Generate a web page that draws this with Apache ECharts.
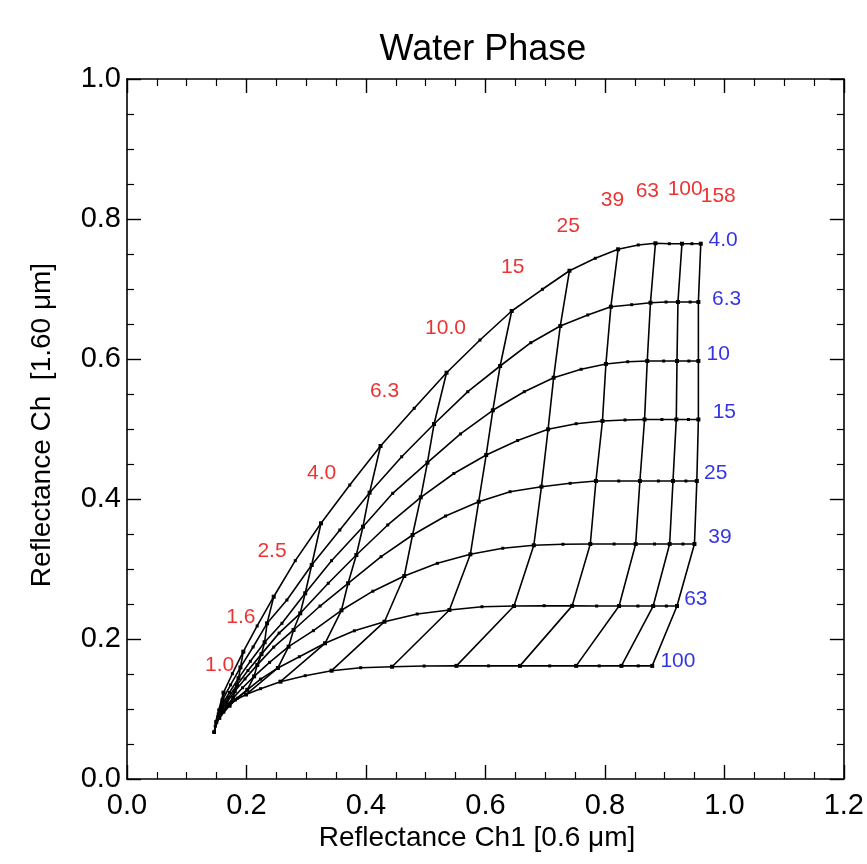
<!DOCTYPE html>
<html><head><meta charset="utf-8">
<script src="https://cdn.jsdelivr.net/npm/echarts/dist/echarts.min.js"></script>
<style>html,body{margin:0;padding:0;background:#fff}#c{width:867px;height:864px}</style>
</head><body><div id="c"></div>
<script>
// Optical thickness at each point along a constant-radius curve (first point = convergence point)
const tauValues = [0, 0.79, 1.0, 1.26, 1.6, 2.0, 2.5, 3.2, 4.0, 5.0, 6.3, 7.9, 10, 12.6, 15.8, 20, 25, 31.6, 39.8, 50, 63, 79, 100, 126, 158];
const reLabels = ['4.0', '6.3', '10', '15', '25', '39', '63', '100'];
const tauLabels = ['1.0', '1.6', '2.5', '4.0', '6.3', '10.0', '15', '25', '39', '63', '100', '158'];
const tauLabelIndex = [2, 4, 6, 8, 10, 12, 14, 16, 18, 20, 22, 24];

// Reflectance Ch1 (0.6 um) and Ch (1.60 um) for each effective radius
const ch1Re4 = [0.146, 0.1535, 0.1615, 0.1764, 0.1947, 0.2179, 0.2456, 0.2817, 0.3248, 0.3729, 0.4244, 0.4808, 0.5349, 0.5909, 0.644, 0.6954, 0.7407, 0.7839, 0.8221, 0.8559, 0.8846, 0.9079, 0.929, 0.9456, 0.9605];
const ch2Re4 = [0.067, 0.0986, 0.1233, 0.1504, 0.1819, 0.2186, 0.2604, 0.3119, 0.3653, 0.42, 0.4757, 0.5296, 0.5804, 0.6271, 0.6686, 0.6996, 0.7261, 0.7439, 0.7567, 0.7629, 0.7653, 0.7647, 0.7647, 0.7647, 0.7647];
const ch1Re6 = [0.146, 0.1527, 0.16, 0.1734, 0.1899, 0.2111, 0.2345, 0.2677, 0.3092, 0.3563, 0.4061, 0.4598, 0.514, 0.5705, 0.6246, 0.676, 0.7253, 0.7713, 0.81, 0.8448, 0.8763, 0.9024, 0.9223, 0.9427, 0.9565];
const ch2Re6 = [0.067, 0.0929, 0.1129, 0.1344, 0.1594, 0.1886, 0.2224, 0.2557, 0.3057, 0.3557, 0.409, 0.4604, 0.5071, 0.5533, 0.59, 0.6233, 0.6471, 0.6629, 0.6747, 0.6776, 0.6804, 0.6814, 0.6814, 0.6814, 0.6814];
const ch1Re10 = [0.146, 0.1522, 0.159, 0.1715, 0.1867, 0.2065, 0.2304, 0.2594, 0.2983, 0.3424, 0.395, 0.4448, 0.5029, 0.5582, 0.6124, 0.665, 0.7142, 0.7602, 0.8017, 0.8382, 0.8709, 0.8984, 0.9207, 0.9406, 0.9565];
const ch2Re10 = [0.067, 0.0893, 0.1057, 0.1236, 0.1441, 0.1681, 0.1954, 0.2224, 0.2653, 0.3119, 0.3604, 0.4081, 0.4519, 0.4929, 0.5267, 0.5533, 0.5733, 0.5853, 0.5929, 0.5961, 0.5971, 0.5971, 0.5971, 0.5971, 0.5971];
const ch1Re15 = [0.146, 0.1517, 0.1582, 0.1698, 0.1841, 0.2025, 0.2251, 0.2546, 0.29, 0.3369, 0.3839, 0.4365, 0.4918, 0.5472, 0.6013, 0.6539, 0.7049, 0.7519, 0.7959, 0.8337, 0.8664, 0.8954, 0.9195, 0.9399, 0.9565];
const ch2Re15 = [0.067, 0.0871, 0.1011, 0.1166, 0.1343, 0.155, 0.1784, 0.2084, 0.2367, 0.2796, 0.32, 0.3629, 0.4024, 0.4364, 0.4629, 0.4836, 0.4996, 0.5076, 0.5114, 0.5129, 0.5136, 0.5136, 0.5136, 0.5136, 0.5136];
const ch1Re25 = [0.146, 0.151, 0.1572, 0.1676, 0.1804, 0.1975, 0.2181, 0.2456, 0.2788, 0.3232, 0.3701, 0.4254, 0.478, 0.5333, 0.5887, 0.6412, 0.6938, 0.7419, 0.785, 0.8232, 0.8586, 0.8896, 0.914, 0.9356, 0.9539];
const ch2Re25 = [0.067, 0.085, 0.0969, 0.1101, 0.1253, 0.143, 0.163, 0.1884, 0.2129, 0.2471, 0.2796, 0.3176, 0.3486, 0.3757, 0.3961, 0.4104, 0.4176, 0.4224, 0.4257, 0.4257, 0.4257, 0.4257, 0.4257, 0.4257, 0.4257];
const ch1Re39 = [0.146, 0.1504, 0.1563, 0.166, 0.1778, 0.1935, 0.2128, 0.2387, 0.2705, 0.312, 0.359, 0.4116, 0.4642, 0.5195, 0.5748, 0.629, 0.681, 0.7298, 0.7756, 0.8154, 0.8515, 0.883, 0.9084, 0.9306, 0.9499];
const ch2Re39 = [0.067, 0.0829, 0.0926, 0.1034, 0.1159, 0.1304, 0.1467, 0.1666, 0.189, 0.2119, 0.241, 0.2683, 0.29, 0.3081, 0.321, 0.3296, 0.3339, 0.3353, 0.3357, 0.3357, 0.3357, 0.3357, 0.3357, 0.3357, 0.3357];
const ch1Re63 = [0.146, 0.1494, 0.1545, 0.1622, 0.1718, 0.1849, 0.2013, 0.2237, 0.2526, 0.2885, 0.3315, 0.3806, 0.431, 0.4858, 0.5397, 0.5942, 0.6478, 0.6983, 0.7452, 0.7862, 0.8237, 0.8553, 0.8808, 0.9029, 0.9207];
const ch2Re63 = [0.067, 0.08, 0.0873, 0.0954, 0.1047, 0.1154, 0.1274, 0.1427, 0.1586, 0.1747, 0.1939, 0.2117, 0.2247, 0.2357, 0.2414, 0.2461, 0.2471, 0.2476, 0.2473, 0.2471, 0.2471, 0.2471, 0.2471, 0.2471, 0.2471];
const ch1Re100 = [0.146, 0.1477, 0.1494, 0.1519, 0.1552, 0.161, 0.1693, 0.1817, 0.1992, 0.2236, 0.2568, 0.2983, 0.3424, 0.3912, 0.4437, 0.4974, 0.5515, 0.6053, 0.6578, 0.7076, 0.7519, 0.7905, 0.8277, 0.8559, 0.8792];
const ch2Re100 = [0.067, 0.0757, 0.0814, 0.0864, 0.0921, 0.0986, 0.1057, 0.1129, 0.1207, 0.129, 0.139, 0.1476, 0.1547, 0.159, 0.1604, 0.1614, 0.1616, 0.1616, 0.1616, 0.1616, 0.1616, 0.1616, 0.1616, 0.1616, 0.1616];

// Annotation anchors (data coordinates)
const tauLabelX = [0.155, 0.1905, 0.2428, 0.3259, 0.4311, 0.5332, 0.6456, 0.7386, 0.8127, 0.8711, 0.9344, 0.9897];
const tauLabelY = [0.1629, 0.2310, 0.3257, 0.4367, 0.5533, 0.6438, 0.7310, 0.7900, 0.8271, 0.8404, 0.8429, 0.8319];
const reLabelX = [0.998, 1.0037, 0.9897, 1.0, 0.9854, 0.9925, 0.9522, 0.9223];
const reLabelY = [0.770, 0.6853, 0.6071, 0.5236, 0.4367, 0.3461, 0.2567, 0.1676];

const xTicks = [0, 0.2, 0.4, 0.6, 0.8, 1.0, 1.2];
const yTicks = [0, 0.2, 0.4, 0.6, 0.8, 1.0];

const ch1 = [ch1Re4, ch1Re6, ch1Re10, ch1Re15, ch1Re25, ch1Re39, ch1Re63, ch1Re100];
const ch2 = [ch2Re4, ch2Re6, ch2Re10, ch2Re15, ch2Re25, ch2Re39, ch2Re63, ch2Re100];

const FONT = '"Liberation Sans", Arial, Helvetica, sans-serif';
const series = [];
ch1.forEach((xs, r) => {
  series.push({
    type: 'line', name: 're ' + reLabels[r], xAxisIndex: 0, yAxisIndex: 0,
    data: xs.map((x, i) => [x, ch2[r][i]]),
    smooth: false, showSymbol: true, symbol: 'rect',
    symbolSize: (v, p) => (p.dataIndex % 2 === 0 && p.dataIndex > 0 ? 4 : 3),
    lineStyle: { color: '#000', width: 1.6 }, itemStyle: { color: '#000' },
    silent: true, z: 3
  });
});
tauLabelIndex.forEach((j, t) => {
  series.push({
    type: 'line', name: 'tau ' + tauLabels[t], xAxisIndex: 0, yAxisIndex: 0,
    data: ch1.map((xs, r) => [xs[j], ch2[r][j]]),
    showSymbol: false, symbol: 'none',
    lineStyle: { color: '#000', width: 1.6 }, silent: true, z: 3
  });
});
series.push({
  type: 'scatter', xAxisIndex: 0, yAxisIndex: 0, symbolSize: 1,
  itemStyle: { color: 'rgba(0,0,0,0)' }, silent: true, z: 5,
  data: tauLabelX.map((x, i) => [x, tauLabelY[i]]),
  label: { show: true, position: 'inside', color: '#e60000', fontSize: 21, fontFamily: FONT,
    formatter: p => tauLabels[p.dataIndex] }
});
series.push({
  type: 'scatter', xAxisIndex: 0, yAxisIndex: 0, symbolSize: 1,
  itemStyle: { color: 'rgba(0,0,0,0)' }, silent: true, z: 5,
  data: reLabelX.map((x, i) => [x, reLabelY[i]]),
  label: { show: true, position: 'inside', color: '#0000dc', fontSize: 21, fontFamily: FONT,
    formatter: p => reLabels[p.dataIndex] }
});

function axisCommon() {
  return {
    type: 'value', splitLine: { show: false },
    axisLine: { show: true, onZero: false, lineStyle: { color: '#000', width: 1.6 } },
    axisTick: { show: true, inside: true, length: 14, lineStyle: { color: '#000', width: 1.4 } },
    minorTick: { show: true, splitNumber: 4, length: 7, lineStyle: { color: '#000', width: 1.2 } }
  };
}

const chart = echarts.init(document.getElementById('c'), null, { renderer: 'canvas' });
chart.setOption({
  animation: false,
  backgroundColor: '#fff',
  grid: { left: 127, top: 79, width: 723, height: 700, containLabel: false },
  xAxis: [
    Object.assign(axisCommon(), { position: 'bottom', min: xTicks[0], max: xTicks[xTicks.length - 1], interval: 0.2,
      axisLabel: { show: true, margin: 12, fontSize: 29, color: '#000', fontFamily: FONT, formatter: v => v.toFixed(1) } }),
    Object.assign(axisCommon(), { position: 'top', min: xTicks[0], max: xTicks[xTicks.length - 1], interval: 0.2,
      axisLabel: { show: false } })
  ],
  yAxis: [
    Object.assign(axisCommon(), { position: 'left', min: yTicks[0], max: yTicks[yTicks.length - 1], interval: 0.2,
      axisLabel: { show: true, margin: 6, fontSize: 29, color: '#000', fontFamily: FONT, formatter: v => v.toFixed(1) } }),
    Object.assign(axisCommon(), { position: 'right', min: yTicks[0], max: yTicks[yTicks.length - 1], interval: 0.2,
      axisLabel: { show: false } })
  ],
  series: series,
  graphic: [
    { type: 'text', x: 483, y: 50, style: { text: 'Water Phase', font: '36px ' + FONT, fill: '#000', align: 'center', verticalAlign: 'middle' } },
    { type: 'text', x: 477, y: 838, style: { text: 'Reflectance Ch1 [0.6 μm]', font: '28px ' + FONT, fill: '#000', align: 'center', verticalAlign: 'middle' } },
    { type: 'text', x: 42, y: 425, rotation: Math.PI / 2, style: { text: 'Reflectance Ch  [1.60 μm]', font: '28px ' + FONT, fill: '#000', align: 'center', verticalAlign: 'middle' } }
  ]
});
</script></body></html>
